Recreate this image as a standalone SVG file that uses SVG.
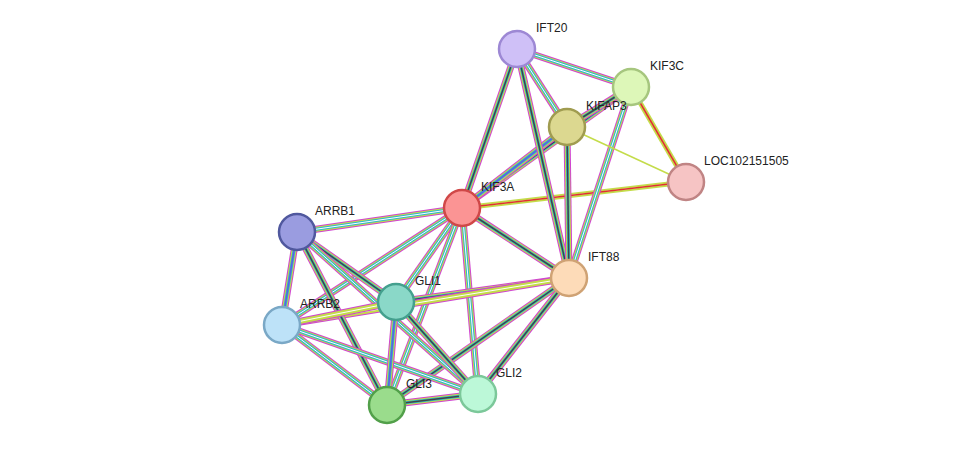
<svg xmlns="http://www.w3.org/2000/svg" width="975" height="451" viewBox="0 0 975 451">
<style>
.m{stroke:#d044d0;stroke-width:7;fill:none}
.y{stroke:#c4dc4a;stroke-width:5;fill:none}
.c{stroke:#2fb7cf;stroke-width:3;fill:none}
.k{stroke:#444;stroke-width:1.5;fill:none}
.r{stroke:#e03030;stroke-width:1.5;fill:none}
.b{stroke:#6060e0;stroke-width:1.5;fill:none}
.ty{stroke:#c4dc4a;stroke-width:1.5;fill:none}
.gap{stroke:#fff;stroke-width:1;fill:none}
circle{stroke-width:2.5}
text{font-family:"Liberation Sans",Arial,sans-serif;font-size:12px;fill:#222}
</style>
<defs>
<path id="a_ift20" d="M462,208L517,49"/>
<path id="a_kif3c" d="M462,208L631,87"/>
<path id="a_kifap3" d="M462,208L567,127"/>
<path id="a_loc" d="M462,208L686,182"/>
<path id="a_arrb1" d="M462,208L297,232"/>
<path id="a_ift88" d="M462,208L569,278"/>
<path id="a_gli1" d="M462,208L396,302"/>
<path id="a_arrb2" d="M462,208L282,325"/>
<path id="a_gli3" d="M462,208L387,405"/>
<path id="a_gli2" d="M462,208L478,394"/>
<path id="i20_kif3c" d="M517,49L631,87"/>
<path id="i20_kifap3" d="M517,49L567,127"/>
<path id="i20_ift88" d="M517,49L569,278"/>
<path id="c_kifap3" d="M631,87L567,127"/>
<path id="c_loc" d="M631,87L686,182"/>
<path id="c_ift88" d="M631,87L569,278"/>
<path id="p_ift88" d="M567,127L569,278"/>
<path id="p_loc" d="M567,127L686,182"/>
<path id="f_gli1" d="M569,278L396,302"/>
<path id="f_gli3" d="M569,278L387,405"/>
<path id="f_gli2" d="M569,278L478,394"/>
<path id="f_arrb2" d="M569,278L282,325"/>
<path id="b1_b2" d="M297,232L282,325"/>
<path id="b1_gli1" d="M297,232L396,302"/>
<path id="b1_gli3" d="M297,232L387,405"/>
<path id="b1_gli2" d="M297,232L478,394"/>
<path id="b2_gli1" d="M282,325L396,302"/>
<path id="b2_gli3" d="M282,325L387,405"/>
<path id="b2_gli2" d="M282,325L478,394"/>
<path id="g1_gli3" d="M396,302L387,405"/>
<path id="g1_gli2" d="M396,302L478,394"/>
<path id="g3_gli2" d="M387,405L478,394"/>
</defs>
<g id="connectors">
<use href="#a_ift20" class="m"/><use href="#a_ift20" class="y"/><use href="#a_ift20" class="c"/><use href="#a_ift20" class="k"/>
<use href="#a_kif3c" class="m"/><use href="#a_kif3c" class="y"/><use href="#a_kif3c" class="c"/><use href="#a_kif3c" class="k"/>
<use href="#a_kifap3" class="m"/><use href="#a_kifap3" class="y"/><use href="#a_kifap3" class="c"/><use href="#a_kifap3" class="b"/>
<use href="#a_loc" class="y"/><use href="#a_loc" class="gap"/><use href="#a_loc" class="r"/>
<use href="#a_arrb1" class="m"/><use href="#a_arrb1" class="y"/><use href="#a_arrb1" class="c"/><use href="#a_arrb1" class="gap"/>
<use href="#a_ift88" class="m"/><use href="#a_ift88" class="y"/><use href="#a_ift88" class="c"/><use href="#a_ift88" class="k"/>
<use href="#a_gli1" class="m"/><use href="#a_gli1" class="y"/><use href="#a_gli1" class="c"/><use href="#a_gli1" class="gap"/>
<use href="#a_arrb2" class="m"/><use href="#a_arrb2" class="y"/><use href="#a_arrb2" class="c"/><use href="#a_arrb2" class="gap"/>
<use href="#a_gli3" class="m"/><use href="#a_gli3" class="y"/><use href="#a_gli3" class="c"/><use href="#a_gli3" class="gap"/>
<use href="#a_gli2" class="m"/><use href="#a_gli2" class="y"/><use href="#a_gli2" class="c"/><use href="#a_gli2" class="gap"/>
<use href="#i20_kif3c" class="m"/><use href="#i20_kif3c" class="y"/><use href="#i20_kif3c" class="c"/><use href="#i20_kif3c" class="gap"/>
<use href="#i20_kifap3" class="m"/><use href="#i20_kifap3" class="y"/><use href="#i20_kifap3" class="c"/><use href="#i20_kifap3" class="gap"/>
<use href="#i20_ift88" class="m"/><use href="#i20_ift88" class="y"/><use href="#i20_ift88" class="c"/><use href="#i20_ift88" class="k"/>
<use href="#c_kifap3" class="m"/><use href="#c_kifap3" class="y"/><use href="#c_kifap3" class="c"/><use href="#c_kifap3" class="k"/>
<use href="#c_loc" class="y"/><use href="#c_loc" class="gap"/><use href="#c_loc" class="r"/>
<use href="#c_ift88" class="m"/><use href="#c_ift88" class="y"/><use href="#c_ift88" class="c"/><use href="#c_ift88" class="gap"/>
<use href="#p_ift88" class="m"/><use href="#p_ift88" class="y"/><use href="#p_ift88" class="c"/><use href="#p_ift88" class="k"/>
<use href="#p_loc" class="ty"/>
<use href="#f_gli1" class="m"/><use href="#f_gli1" class="y"/><use href="#f_gli1" class="c"/><use href="#f_gli1" class="k"/>
<use href="#f_gli3" class="m"/><use href="#f_gli3" class="y"/><use href="#f_gli3" class="c"/><use href="#f_gli3" class="k"/>
<use href="#f_gli2" class="m"/><use href="#f_gli2" class="y"/><use href="#f_gli2" class="c"/><use href="#f_gli2" class="k"/>
<use href="#f_arrb2" class="m"/><use href="#f_arrb2" class="y"/><use href="#f_arrb2" class="gap"/>
<use href="#b1_b2" class="m"/><use href="#b1_b2" class="y"/><use href="#b1_b2" class="c"/><use href="#b1_b2" class="b"/>
<use href="#b1_gli1" class="m"/><use href="#b1_gli1" class="y"/><use href="#b1_gli1" class="c"/><use href="#b1_gli1" class="k"/>
<use href="#b1_gli3" class="m"/><use href="#b1_gli3" class="y"/><use href="#b1_gli3" class="c"/><use href="#b1_gli3" class="k"/>
<use href="#b1_gli2" class="m"/><use href="#b1_gli2" class="y"/><use href="#b1_gli2" class="c"/><use href="#b1_gli2" class="gap"/>
<use href="#b2_gli1" class="m"/><use href="#b2_gli1" class="y"/><use href="#b2_gli1" class="gap"/>
<use href="#b2_gli3" class="m"/><use href="#b2_gli3" class="y"/><use href="#b2_gli3" class="c"/><use href="#b2_gli3" class="gap"/>
<use href="#b2_gli2" class="m"/><use href="#b2_gli2" class="y"/><use href="#b2_gli2" class="c"/><use href="#b2_gli2" class="gap"/>
<use href="#g1_gli3" class="m"/><use href="#g1_gli3" class="y"/><use href="#g1_gli3" class="c"/><use href="#g1_gli3" class="b"/>
<use href="#g1_gli2" class="m"/><use href="#g1_gli2" class="y"/><use href="#g1_gli2" class="c"/><use href="#g1_gli2" class="k"/>
<use href="#g3_gli2" class="m"/><use href="#g3_gli2" class="y"/><use href="#g3_gli2" class="c"/><use href="#g3_gli2" class="k"/>
</g>
<g id="IFT20"><circle cx="517" cy="49" r="18" fill="#cfc0f7" stroke="#9d88d4"/><text x="536" y="32">IFT20</text></g>
<g id="KIF3C"><circle cx="631" cy="87" r="18" fill="#ddf7b8" stroke="#a6c67e"/><text x="650" y="70">KIF3C</text></g>
<g id="KIFAP3"><circle cx="567" cy="127" r="18" fill="#dcd890" stroke="#a09c50"/><text x="586" y="110">KIFAP3</text></g>
<g id="LOC102151505"><circle cx="686" cy="182" r="18" fill="#f6c4c4" stroke="#c08484"/><text x="704" y="165">LOC102151505</text></g>
<g id="KIF3A"><circle cx="462" cy="208" r="18" fill="#fb9494" stroke="#d04848"/><text x="481" y="191">KIF3A</text></g>
<g id="ARRB1"><circle cx="297" cy="232" r="18" fill="#9a9ce0" stroke="#50589e"/><text x="315" y="215">ARRB1</text></g>
<g id="IFT88"><circle cx="569" cy="278" r="18" fill="#fddbb8" stroke="#cfa274"/><text x="588" y="261">IFT88</text></g>
<g id="GLI1"><circle cx="396" cy="302" r="18" fill="#8ad8c8" stroke="#44a08e"/><text x="415" y="285">GLI1</text></g>
<g id="ARRB2"><circle cx="282" cy="325" r="18" fill="#bde2f8" stroke="#7aa8c6"/><text x="300" y="308">ARRB2</text></g>
<g id="GLI3"><circle cx="387" cy="405" r="18" fill="#9adc8c" stroke="#52a04a"/><text x="406" y="388">GLI3</text></g>
<g id="GLI2"><circle cx="478" cy="394" r="18" fill="#bcf8d8" stroke="#7cc89a"/><text x="496" y="377">GLI2</text></g>
</svg>
